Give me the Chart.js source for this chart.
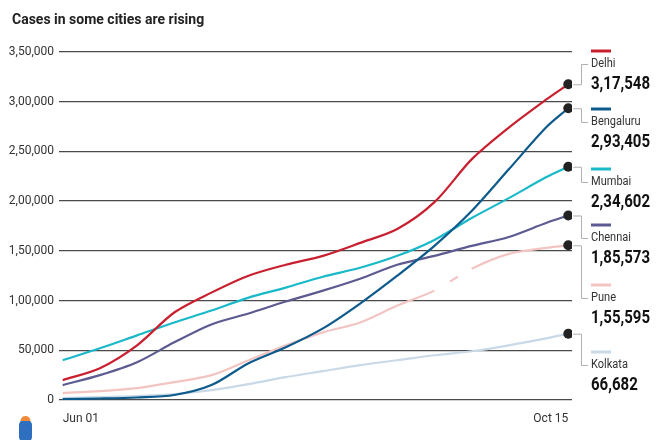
<!DOCTYPE html>
<html>
<head>
<meta charset="utf-8">
<script src="https://cdn.jsdelivr.net/npm/chart.js@4/dist/chart.umd.min.js"></script>
<style>
  body { margin: 0; background: #fff; }
  #wrap { width: 660px; height: 440px; position: relative; }
</style>
</head>
<body>
<div id="wrap"><canvas id="chart" width="660" height="440"></canvas></div>
<script>
// days since Jun 01
const days = [0, 10, 20, 30, 40, 50, 60, 70, 80, 90, 100, 110, 120, 130, 136];
const tickDays = [0, 136];
const tickText = ["Jun 01", "Oct 15"];
const yTicks = [0, 50000, 100000, 150000, 200000, 250000, 300000, 350000];

const cities = ["Delhi", "Bengaluru", "Mumbai", "Chennai", "Pune", "Kolkata"];
const delhi     = [20000, 32000, 55000, 88000, 108000, 125000, 136000, 145000, 158000, 172000, 199000, 242000, 274000, 302000, 317548];
const bengaluru = [1000, 1500, 2500, 5000, 15000, 37000, 53000, 72000, 97000, 125000, 155000, 190000, 232000, 274000, 293405];
const mumbai    = [40000, 52000, 65000, 78000, 90000, 103000, 113000, 124000, 133000, 145000, 161000, 183000, 203000, 224000, 234602];
const chennai   = [15000, 25000, 38000, 58000, 76000, 87000, 99000, 110000, 122000, 136000, 145000, 155000, 164000, 178000, 185573];
const pune      = [7000, 9000, 12000, 18000, 25000, 40000, 55000, 68000, 78000, 95000, 110000, 132000, 147000, 153000, 155595];
const kolkata   = [2000, 3000, 4000, 6000, 10000, 16000, 23000, 29000, 35000, 40000, 45000, 49000, 55000, 62000, 66682];

const series = [delhi, bengaluru, mumbai, chennai, pune, kolkata];
const colors = ["#c8202f", "#0d5a8c", "#19b9c9", "#5b5b92", "#f2c4c2", "#c9d9e8"];
// where the name label sits on the right
const labelY = [64, 122, 182, 238, 298, 365];

function inr(n) {
  let s = String(Math.round(n));
  if (s.length <= 3) return s;
  let last = s.slice(-3), rest = s.slice(0, -3);
  rest = rest.replace(/\B(?=(\d{2})+(?!\d))/g, ",");
  return rest + "," + last;
}

// draw text squeezed horizontally (the original uses a condensed face)
function narrowText(c, text, x, y, sx) {
  c.save();
  c.translate(x, y);
  c.scale(sx, 1);
  c.fillText(text, 0, 0);
  c.restore();
}

const sidePanel = {
  id: "sidePanel",
  beforeDraw(chart) {
    const c = chart.ctx;
    c.save();
    c.fillStyle = "#fff";
    c.fillRect(0, 0, chart.width, chart.height);
    c.restore();
  },
  afterDraw(chart) {
    const c = chart.ctx;
    const xs = chart.scales.x, ys = chart.scales.y;
    c.save();
    // title
    c.fillStyle = "#222";
    c.font = "bold 14px Roboto";
    c.textBaseline = "middle";
    c.textAlign = "left";
    c.fillText("Cases in some cities are rising", 12, 20);

    const lastDay = days[days.length - 1];
    const dx = xs.getPixelForValue(lastDay);
    cities.forEach((name, i) => {
      const vals = series[i];
      const v = vals[vals.length - 1];
      const dy = ys.getPixelForValue(v);
      const ny = labelY[i];
      // connector
      c.strokeStyle = "#b0b0b0";
      c.lineWidth = 1;
      c.beginPath();
      c.moveTo(dx + 5, dy + 0.5);
      c.lineTo(581.5, dy + 0.5);
      c.lineTo(581.5, ny + 0.5);
      c.lineTo(588, ny + 0.5);
      c.stroke();
      // swatch
      c.strokeStyle = colors[i];
      c.lineWidth = 3;
      c.beginPath();
      c.moveTo(591, ny - 13);
      c.lineTo(611, ny - 13);
      c.stroke();
      // name and value
      c.fillStyle = "#333";
      c.font = "12px Roboto";
      narrowText(c, name, 591, ny, 0.92);
      c.fillStyle = "#111";
      c.font = "bold 19px Roboto";
      narrowText(c, inr(v), 591, ny + 20, 0.79);
    });

    // small logo mark bottom-left
    c.fillStyle = "#2f6fc0";
    c.beginPath();
    c.roundRect(19, 420, 13, 22, 5);
    c.fill();
    c.fillStyle = "#f08a3a";
    c.beginPath();
    c.arc(25.5, 421, 5, Math.PI, 0);
    c.fill();
    c.restore();
  }
};

new Chart(document.getElementById("chart"), {
  type: "line",
  data: {
    datasets: cities.map((name, i) => ({
      label: name,
      data: days.map((d, j) => ({ x: d, y: series[i][j] })),
      borderColor: colors[i],
      borderWidth: 2.2,
      tension: 0.3,
      pointRadius: ctx => (ctx.dataIndex === days.length - 1 ? 5 : 0),
      pointBackgroundColor: "#222",
      pointBorderColor: "#222",
      pointBorderWidth: 0,
      fill: false,
      // Pune's line is broken for a stretch in September
      segment: name === "Pune"
        ? { borderDash: ctx => (ctx.p0DataIndex === 10 ? [0, 18, 9, 40] : undefined) }
        : undefined
    }))
  },
  options: {
    responsive: false,
    animation: false,
    layout: { padding: { top: 52, right: 88, left: 0, bottom: 0 } },
    plugins: { legend: { display: false }, tooltip: { enabled: false } },
    scales: {
      x: {
        type: "linear",
        min: -1,
        max: 137,
        grid: { display: false },
        border: { display: false },
        afterBuildTicks: axis => { axis.ticks = tickDays.map(v => ({ value: v })); },
        afterFit: axis => { axis.height = 40; },
        ticks: {
          callback: v => tickText[tickDays.indexOf(v)],
          align: "inner",
          maxRotation: 0,
          autoSkip: false,
          padding: 4,
          color: "#333",
          font: { family: "Roboto", size: 12 }
        }
      },
      y: {
        min: 0,
        max: 350000,
        afterBuildTicks: axis => { axis.ticks = yTicks.map(v => ({ value: v })); },
        afterFit: axis => { axis.width = 59; },
        grid: { color: "#4a4a4a", lineWidth: 1.3, drawTicks: false },
        border: { display: false },
        ticks: {
          callback: v => inr(v),
          padding: 5,
          color: "#333",
          font: { family: "Roboto", size: 12 }
        }
      }
    }
  },
  plugins: [sidePanel]
});
</script>
</body>
</html>
